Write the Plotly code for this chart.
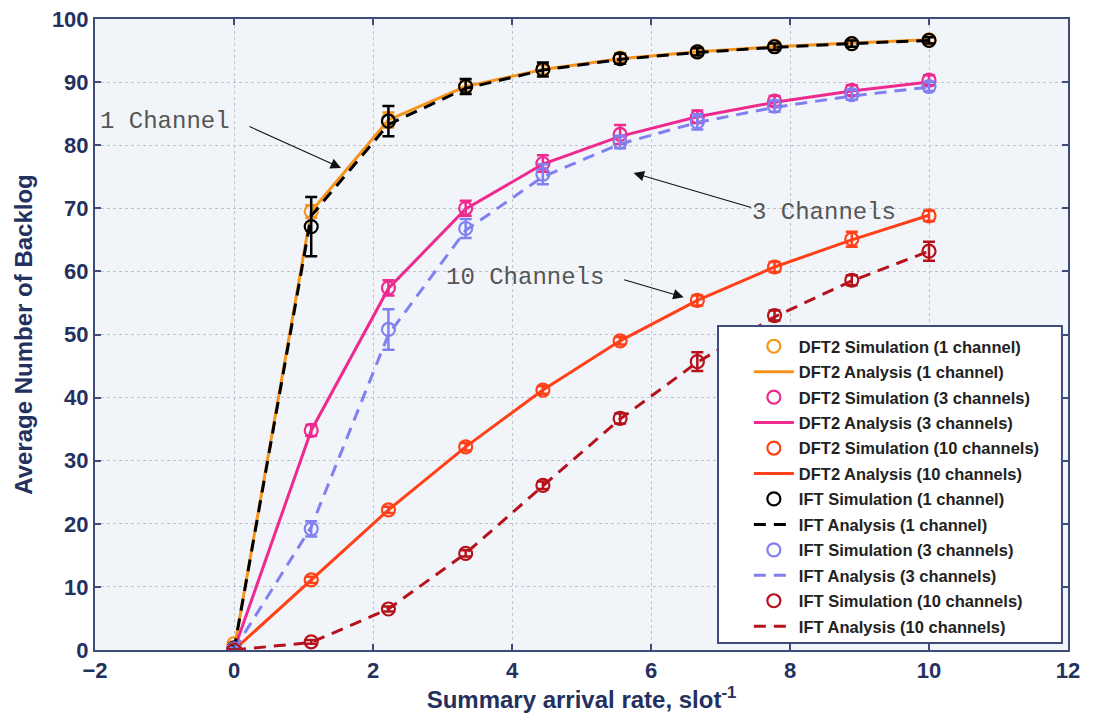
import plotly.graph_objects as go

# Summary arrival rate (slot^-1)
rate = [0, 10/9, 20/9, 30/9, 40/9, 50/9, 60/9, 70/9, 80/9, 10]

# DFT2 results
dft2_sim_1 = [1.0, 69.5, 84.0, 89.3, 92.0, 93.8, 94.8, 95.7, 96.1, 96.7]
dft2_err_1 = [0.3, 1.0, 1.2, 0.8, 0.7, 0.6, 0.5, 0.5, 0.5, 0.5]
dft2_ana_1 = [0.0, 69.5, 84.0, 89.3, 92.0, 93.7, 94.8, 95.6, 96.2, 96.7]

dft2_sim_3 = [0.3, 34.8, 57.4, 70.0, 77.1, 81.7, 84.5, 87.0, 88.7, 90.3]
dft2_err_3 = [0.2, 0.9, 1.2, 1.2, 1.3, 1.5, 1.0, 0.8, 0.8, 0.8]
dft2_ana_3 = [0.0, 34.8, 57.3, 69.9, 77.0, 81.4, 84.5, 86.8, 88.6, 90.0]

dft2_sim_10 = [0.2, 11.1, 22.2, 32.2, 41.2, 49.0, 55.4, 60.7, 65.1, 68.8]
dft2_err_10 = [0.1, 0.5, 0.5, 0.6, 0.6, 0.6, 0.8, 0.8, 1.2, 0.8]
dft2_ana_10 = [0.0, 11.1, 22.2, 32.2, 41.2, 49.0, 55.4, 60.7, 65.0, 68.9]

# IFT results
ift_sim_1 = [0.3, 67.1, 83.8, 89.3, 92.0, 93.7, 94.8, 95.6, 96.1, 96.6]
ift_err_1 = [0.3, 4.7, 2.4, 1.2, 1.1, 0.8, 0.6, 0.5, 0.5, 0.5]
ift_ana_1 = [0.0, 68.8, 83.3, 89.0, 91.9, 93.6, 94.7, 95.5, 96.1, 96.6]

ift_sim_3 = [0.2, 19.2, 50.8, 66.8, 75.4, 80.5, 83.7, 86.2, 88.0, 89.3]
ift_err_3 = [0.2, 1.2, 3.2, 1.5, 1.6, 1.0, 1.2, 0.9, 0.8, 0.7]
ift_ana_3 = [0.0, 19.5, 50.0, 66.5, 75.0, 80.2, 83.6, 86.0, 87.8, 89.2]

ift_sim_10 = [0.0, 1.3, 6.5, 15.3, 26.1, 36.7, 45.7, 53.0, 58.6, 63.2]
ift_err_10 = [0.1, 0.3, 0.4, 0.5, 0.6, 0.8, 1.5, 0.8, 0.8, 1.5]
ift_ana_10 = [0.0, 1.2, 6.5, 15.3, 26.0, 36.6, 45.6, 52.8, 58.5, 63.2]

x_ticks = [-2, 0, 2, 4, 6, 8, 10, 12]
y_ticks = [0, 10, 20, 30, 40, 50, 60, 70, 80, 90, 100]

NAVY = "#24315E"
AXIS = "#3E4C7C"

series = [
    ("DFT2", "1 channel", dft2_sim_1, dft2_err_1, dft2_ana_1, "#F7941D", "solid"),
    ("DFT2", "3 channels", dft2_sim_3, dft2_err_3, dft2_ana_3, "#EE2A8F", "solid"),
    ("DFT2", "10 channels", dft2_sim_10, dft2_err_10, dft2_ana_10, "#FF4018", "solid"),
    ("IFT", "1 channel", ift_sim_1, ift_err_1, ift_ana_1, "#000000", "12px,8px"),
    ("IFT", "3 channels", ift_sim_3, ift_err_3, ift_ana_3, "#8080F0", "12px,8px"),
    ("IFT", "10 channels", ift_sim_10, ift_err_10, ift_ana_10, "#B5121B", "12px,8px"),
]

fig = go.Figure()
for i, (method, label, sim, err, ana, color, dash) in enumerate(series):
    fig.add_trace(go.Scatter(
        x=rate, y=sim, mode="markers",
        name=f"{method} Simulation ({label})",
        legendgroup=f"g{2 * i}",
        marker=dict(symbol="circle-open", size=13, color=color, line=dict(width=2.2, color=color)),
        error_y=dict(type="data", array=err, visible=True, color=color, thickness=2.5, width=6),
    ))
    fig.add_trace(go.Scatter(
        x=rate, y=ana, mode="lines",
        name=f"{method} Analysis ({label})",
        legendgroup=f"g{2 * i + 1}",
        line=dict(color=color, width=3, dash=dash),
    ))

annotations = [
    # arrows
    dict(x=1.54, y=76.4, ax=-93, ay=-42, text="", showarrow=True,
         arrowhead=2, arrowsize=1.9, arrowwidth=1.1, arrowcolor="#111"),
    dict(x=5.75, y=75.6, ax=119, ay=35, text="", showarrow=True,
         arrowhead=2, arrowsize=1.9, arrowwidth=1.1, arrowcolor="#111"),
    dict(x=6.47, y=55.9, ax=-61, ay=-18, text="", showarrow=True,
         arrowhead=2, arrowsize=1.9, arrowwidth=1.1, arrowcolor="#111"),
    # labels
    dict(x=-1.0, y=83.7, text="1 Channel", showarrow=False),
    dict(x=8.49, y=69.4, text="3 Channels", showarrow=False),
    dict(x=4.18, y=59.1, text="10 Channels", showarrow=False),
]
for a in annotations:
    a.update(xref="x", yref="y")
    if not a["showarrow"]:
        a["font"] = dict(family="Liberation Mono", size=24, color="#555555")

# legend frame
shapes = [dict(
    type="rect", xref="paper", yref="paper", layer="above",
    x0=0.6403, x1=0.9938, y0=0.0111, y1=0.5135,
    fillcolor="white", line=dict(color=AXIS, width=2),
)]

fig.update_layout(
    width=1093, height=725,
    margin=dict(l=95, r=25, t=19, b=75),
    paper_bgcolor="white",
    plot_bgcolor="#F1F5FA",
    annotations=annotations,
    shapes=shapes,
    showlegend=True,
    legend=dict(
        x=0.672, y=0.5087, xanchor="left", yanchor="top",
        bgcolor="rgba(0,0,0,0)", borderwidth=0,
        font=dict(family="Liberation Sans", size=16.5, color="#222222", weight="bold"),
        itemwidth=40, tracegroupgap=1, traceorder="grouped",
    ),
    font=dict(family="Liberation Sans", color=NAVY),
)

axis_common = dict(
    showline=True, linecolor=AXIS, linewidth=2, mirror="ticks",
    ticks="inside", ticklen=6, tickcolor=AXIS, tickwidth=1.5,
    showgrid=True, gridcolor="#BFC4CC", griddash="dot", gridwidth=1,
    zeroline=False, automargin=False,
    tickfont=dict(family="Liberation Sans", size=22, color=NAVY, weight="bold"),
)
fig.update_xaxes(
    range=[-2, 12], tickvals=x_ticks, **axis_common,
    title=dict(text="Summary arrival rate, slot<sup>-1</sup>",
               font=dict(family="Liberation Sans", size=24, color=NAVY, weight="bold"), standoff=8),
)
fig.update_yaxes(
    range=[0, 100], tickvals=y_ticks, **axis_common,
    title=dict(text="Average Number of Backlog",
               font=dict(family="Liberation Sans", size=24, color=NAVY, weight="bold"), standoff=12),
)

fig.write_html("out.html")
